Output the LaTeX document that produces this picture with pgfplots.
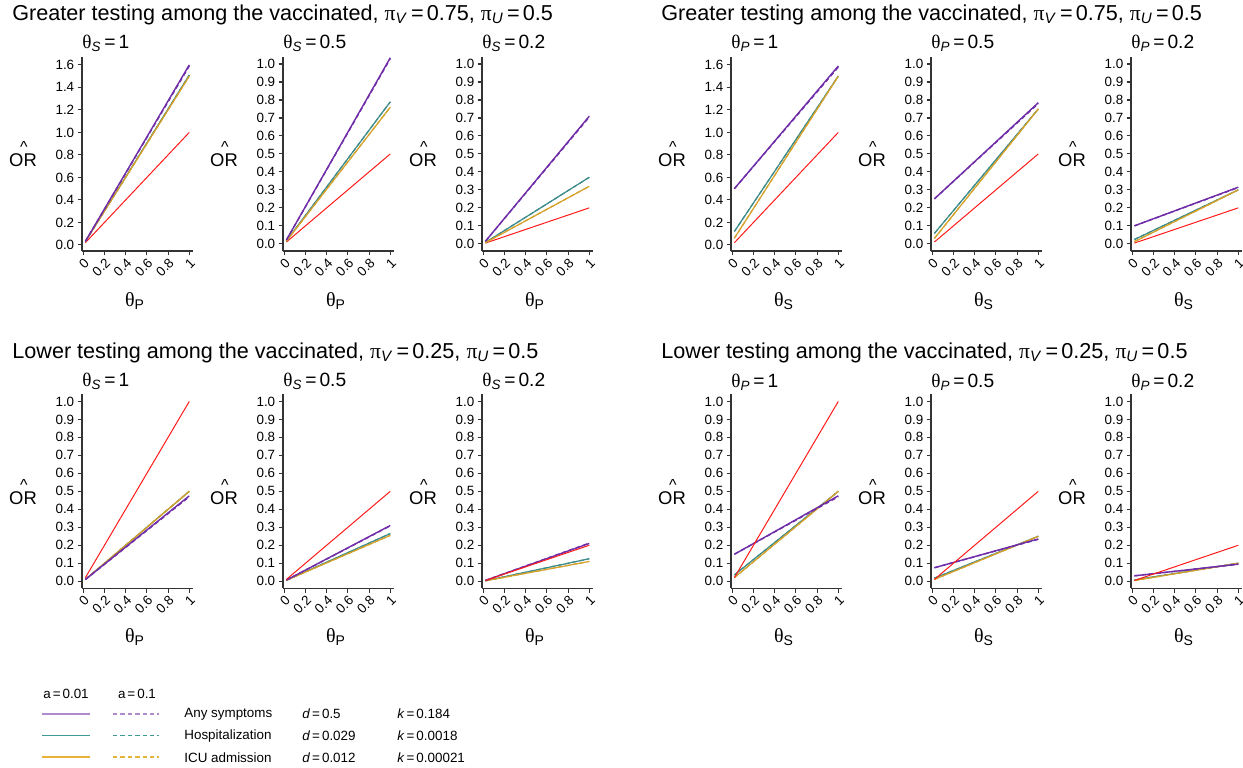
\documentclass[border=0pt]{standalone}
\usepackage{fontspec}
\setmainfont{Liberation Sans}
\newfontfamily\grk{Liberation Serif}
\usepackage{pgfplots}
\pgfplotsset{compat=1.18}

\definecolor{cpur}{HTML}{6F2DA8}
\definecolor{cteal}{HTML}{3D8B8B}
\definecolor{cgold}{HTML}{D4A12A}
\definecolor{cred}{HTML}{FF1A1A}
\definecolor{legpur}{HTML}{B08ACE}
\definecolor{legteal}{HTML}{3F9A95}
\definecolor{leggold}{HTML}{E6B23A}
\definecolor{axgray}{HTML}{333333}

\newcommand\tickf{\fontsize{6.7}{7.5}\selectfont}
\newcommand\thx[1]{{\grk θ}\textsubscript{#1}}
\newcommand\thi[1]{{\grk θ}\textsubscript{\textit{#1}}}
\newcommand\eq{\hspace{0.15em}=\hspace{0.15em}}

\pgfplotsset{
  pan/.style={
    at={(#1)}, anchor=south west,
    scale only axis, width=55.5pt, height=97pt,
    xmin=-0.012, xmax=1.035,
    axis lines*=left,
    axis line style={axgray, line width=0.55pt},
    tick align=outside, major tick length=2.2pt,
    tick style={axgray, line width=0.55pt},
    xtick={0,0.2,0.4,0.6,0.8,1},
    xticklabels={0,0.2,0.4,0.6,0.8,1},
    xticklabel style={font=\tickf, rotate=45, anchor=north east, inner sep=0.5pt},
    yticklabel style={font=\tickf, inner sep=1.5pt},
  },
  big/.style={ymin=-0.054, ymax=1.67,
    ytick={0,0.2,0.4,0.6,0.8,1,1.2,1.4,1.6},
    yticklabels={0.0,0.2,0.4,0.6,0.8,1.0,1.2,1.4,1.6}},
  sml/.style={ymin=-0.04, ymax=1.039,
    ytick={0,0.1,0.2,0.3,0.4,0.5,0.6,0.7,0.8,0.9,1},
    yticklabels={0.0,0.1,0.2,0.3,0.4,0.5,0.6,0.7,0.8,0.9,1.0}},
  rd/.style={cred, line width=0.5pt},
  ts/.style={cteal, line width=0.6pt},
  td/.style={cteal, line width=0.6pt, dash pattern=on 2.2pt off 1.5pt},
  gs/.style={cgold, line width=0.6pt},
  gd/.style={cgold, line width=0.6pt, dash pattern=on 2.2pt off 1.5pt},
  ps/.style={cpur, line width=0.7pt},
  pd/.style={cpur, line width=0.7pt, dash pattern=on 2.2pt off 1.5pt},
}

\begin{document}
\begin{tikzpicture}
\useasboundingbox (0,0) rectangle (621.5pt,-383.5pt);

% ---------- group titles ----------
\begin{scope}[every node/.style={anchor=west, font=\fontsize{10.8}{12}\selectfont, inner sep=0pt}]
\node at (6pt,-7.5pt)
  {Greater testing among the vaccinated, {\grk π}\textsubscript{\textit{V}}\eq0.75, {\grk π}\textsubscript{\textit{U}}\eq0.5};
\node at (330.5pt,-7.5pt)
  {Greater testing among the vaccinated, {\grk π}\textsubscript{\textit{V}}\eq0.75, {\grk π}\textsubscript{\textit{U}}\eq0.5};
\node at (6pt,-176.5pt)
  {Lower testing among the vaccinated, {\grk π}\textsubscript{\textit{V}}\eq0.25, {\grk π}\textsubscript{\textit{U}}\eq0.5};
\node at (330.5pt,-176.5pt)
  {Lower testing among the vaccinated, {\grk π}\textsubscript{\textit{V}}\eq0.25, {\grk π}\textsubscript{\textit{U}}\eq0.5};
\end{scope}

% ---------- panel titles ----------
\foreach \x/\t in {41/\thi{S}\eq1, 141.5/\thi{S}\eq0.5, 241/\thi{S}\eq0.2,
                   365.5/\thi{P}\eq1, 465.5/\thi{P}\eq0.5, 565.5/\thi{P}\eq0.2} {
  \node[anchor=west, font=\fontsize{9.6}{11}\selectfont, inner sep=0pt] at (\x pt,-21.5pt) {\t};
  \node[anchor=west, font=\fontsize{9.6}{11}\selectfont, inner sep=0pt] at (\x pt,-190.9pt) {\t};
}

% ---------- y labels (OR hat) and x labels ----------
\foreach \x/\v in {41/P, 141.5/P, 241/P, 365.5/S, 465.5/S, 565.5/S} {
  \foreach \yc/\yl in {-80/-150.5, -249/-318.5} {
    \node[font=\fontsize{9.2}{10}\selectfont, inner sep=0pt] (o) at (\x pt-29.5pt, \yc pt) {OR};
    \node[font=\fontsize{8}{9}\selectfont, inner sep=0pt, anchor=south] at ([xshift=0.4pt, yshift=0.3pt]o.north) {\textasciicircum};
    \node[font=\fontsize{10}{11}\selectfont, inner sep=0pt] at (\x pt+26.5pt, \yl pt) {\thx{\v}};
  }
}

% ================= top left: greater testing, x = theta_P =================
\begin{axis}[pan={41pt,-125.5pt}, big]
\addplot[rd] coordinates {(0.02,0.02) (1,1.0)};
\addplot[ts] coordinates {(0.02,0.030) (1,1.51)};
\addplot[td] coordinates {(0.02,0.030) (1,1.51)};
\addplot[gs] coordinates {(0.02,0.030) (1,1.50)};
\addplot[gd] coordinates {(0.02,0.030) (1,1.50)};
\addplot[ps] coordinates {(0.02,0.032) (1,1.60)};
\addplot[pd] coordinates {(0.02,0.032) (1,1.59)};
\end{axis}
\begin{axis}[pan={141.5pt,-125.5pt}, sml]
\addplot[rd] coordinates {(0.02,0.010) (1,0.50)};
\addplot[ts] coordinates {(0.02,0.016) (1,0.79)};
\addplot[td] coordinates {(0.02,0.016) (1,0.79)};
\addplot[gs] coordinates {(0.02,0.015) (1,0.76)};
\addplot[gd] coordinates {(0.02,0.015) (1,0.76)};
\addplot[ps] coordinates {(0.02,0.021) (1,1.035)};
\addplot[pd] coordinates {(0.02,0.021) (1,1.03)};
\end{axis}
\begin{axis}[pan={241pt,-125.5pt}, sml]
\addplot[rd] coordinates {(0.02,0.004) (1,0.20)};
\addplot[ts] coordinates {(0.02,0.0074) (1,0.37)};
\addplot[td] coordinates {(0.02,0.0074) (1,0.37)};
\addplot[gs] coordinates {(0.02,0.0064) (1,0.32)};
\addplot[gd] coordinates {(0.02,0.0064) (1,0.32)};
\addplot[ps] coordinates {(0.02,0.014) (1,0.71)};
\addplot[pd] coordinates {(0.02,0.014) (1,0.705)};
\end{axis}

% ================= top right: greater testing, x = theta_S =================
\begin{axis}[pan={365.5pt,-125.5pt}, big]
\addplot[rd] coordinates {(0.02,0.02) (1,1.0)};
\addplot[ts] coordinates {(0.02,0.12) (1,1.50)};
\addplot[td] coordinates {(0.02,0.12) (1,1.50)};
\addplot[gs] coordinates {(0.02,0.06) (1,1.50)};
\addplot[gd] coordinates {(0.02,0.06) (1,1.50)};
\addplot[ps] coordinates {(0.02,0.50) (1,1.59)};
\addplot[pd] coordinates {(0.02,0.50) (1,1.58)};
\end{axis}
\begin{axis}[pan={465.5pt,-125.5pt}, sml]
\addplot[rd] coordinates {(0.02,0.010) (1,0.50)};
\addplot[ts] coordinates {(0.02,0.058) (1,0.75)};
\addplot[td] coordinates {(0.02,0.058) (1,0.75)};
\addplot[gs] coordinates {(0.02,0.030) (1,0.75)};
\addplot[gd] coordinates {(0.02,0.030) (1,0.75)};
\addplot[ps] coordinates {(0.02,0.25) (1,0.785)};
\addplot[pd] coordinates {(0.02,0.25) (1,0.78)};
\end{axis}
\begin{axis}[pan={565.5pt,-125.5pt}, sml]
\addplot[rd] coordinates {(0.02,0.004) (1,0.20)};
\addplot[ts] coordinates {(0.02,0.024) (1,0.30)};
\addplot[td] coordinates {(0.02,0.024) (1,0.30)};
\addplot[gs] coordinates {(0.02,0.012) (1,0.30)};
\addplot[gd] coordinates {(0.02,0.012) (1,0.30)};
\addplot[ps] coordinates {(0.02,0.10) (1,0.315)};
\addplot[pd] coordinates {(0.02,0.10) (1,0.313)};
\end{axis}

% ================= bottom left: lower testing, x = theta_P =================
\begin{axis}[pan={41pt,-294.2pt}, sml]
\addplot[ts] coordinates {(0.02,0.010) (1,0.50)};
\addplot[td] coordinates {(0.02,0.010) (1,0.50)};
\addplot[gs] coordinates {(0.02,0.010) (1,0.50)};
\addplot[gd] coordinates {(0.02,0.010) (1,0.50)};
\addplot[ps] coordinates {(0.02,0.0095) (1,0.475)};
\addplot[pd] coordinates {(0.02,0.0095) (1,0.47)};
\addplot[rd] coordinates {(0.02,0.02) (1,1.0)};
\end{axis}
\begin{axis}[pan={141.5pt,-294.2pt}, sml]
\addplot[ts] coordinates {(0.02,0.0053) (1,0.265)};
\addplot[td] coordinates {(0.02,0.0053) (1,0.265)};
\addplot[gs] coordinates {(0.02,0.0051) (1,0.255)};
\addplot[gd] coordinates {(0.02,0.0051) (1,0.255)};
\addplot[ps] coordinates {(0.02,0.0062) (1,0.31)};
\addplot[pd] coordinates {(0.02,0.0062) (1,0.308)};
\addplot[rd] coordinates {(0.02,0.010) (1,0.50)};
\end{axis}
\begin{axis}[pan={241pt,-294.2pt}, sml]
\addplot[ts] coordinates {(0.02,0.0025) (1,0.125)};
\addplot[td] coordinates {(0.02,0.0025) (1,0.125)};
\addplot[gs] coordinates {(0.02,0.0022) (1,0.11)};
\addplot[gd] coordinates {(0.02,0.0022) (1,0.11)};
\addplot[ps] coordinates {(0.02,0.0042) (1,0.21)};
\addplot[pd] coordinates {(0.02,0.0042) (1,0.212)};
\addplot[rd] coordinates {(0.02,0.004) (1,0.20)};
\end{axis}

% ================= bottom right: lower testing, x = theta_S =================
\begin{axis}[pan={365.5pt,-294.2pt}, sml]
\addplot[ts] coordinates {(0.02,0.035) (1,0.50)};
\addplot[td] coordinates {(0.02,0.035) (1,0.50)};
\addplot[gs] coordinates {(0.02,0.020) (1,0.50)};
\addplot[gd] coordinates {(0.02,0.020) (1,0.50)};
\addplot[ps] coordinates {(0.02,0.15) (1,0.475)};
\addplot[pd] coordinates {(0.02,0.15) (1,0.47)};
\addplot[rd] coordinates {(0.02,0.02) (1,1.0)};
\end{axis}
\begin{axis}[pan={465.5pt,-294.2pt}, sml]
\addplot[ts] coordinates {(0.02,0.017) (1,0.25)};
\addplot[td] coordinates {(0.02,0.017) (1,0.25)};
\addplot[gs] coordinates {(0.02,0.010) (1,0.25)};
\addplot[gd] coordinates {(0.02,0.010) (1,0.25)};
\addplot[ps] coordinates {(0.02,0.075) (1,0.235)};
\addplot[pd] coordinates {(0.02,0.075) (1,0.233)};
\addplot[rd] coordinates {(0.02,0.010) (1,0.50)};
\end{axis}
\begin{axis}[pan={565.5pt,-294.2pt}, sml]
\addplot[ts] coordinates {(0.02,0.007) (1,0.10)};
\addplot[td] coordinates {(0.02,0.007) (1,0.10)};
\addplot[gs] coordinates {(0.02,0.004) (1,0.10)};
\addplot[gd] coordinates {(0.02,0.004) (1,0.10)};
\addplot[ps] coordinates {(0.02,0.030) (1,0.095)};
\addplot[pd] coordinates {(0.02,0.030) (1,0.094)};
\addplot[rd] coordinates {(0.02,0.004) (1,0.20)};
\end{axis}

% ---------- legend ----------
\begin{scope}[font=\fontsize{6.7}{7.5}\selectfont]
\node at (33pt,-347pt) {a\eq0.01};
\node at (68.5pt,-347pt) {a\eq0.1};
\draw[color=legpur, line width=1pt] (21pt,-357pt) -- (45pt,-357pt);
\draw[color=legpur, line width=1pt, dash pattern=on 2.2pt off 1.5pt] (56.5pt,-357pt) -- (79.5pt,-357pt);
\draw[color=legteal, line width=0.8pt] (21pt,-367.8pt) -- (45pt,-367.8pt);
\draw[color=legteal, line width=0.8pt, dash pattern=on 2.2pt off 1.5pt] (56.5pt,-367.8pt) -- (79.5pt,-367.8pt);
\draw[color=leggold, line width=0.8pt] (21pt,-378.6pt) -- (45pt,-378.6pt);
\draw[color=leggold, line width=0.8pt, dash pattern=on 2.2pt off 1.5pt] (56.5pt,-378.6pt) -- (79.5pt,-378.6pt);
\node[anchor=west, inner sep=0pt] at (92pt,-357pt) {Any symptoms};
\node[anchor=west, inner sep=0pt] at (92pt,-367.8pt) {Hospitalization};
\node[anchor=west, inner sep=0pt] at (92pt,-378.6pt) {ICU admission};
\node[anchor=west, inner sep=0pt] at (151pt,-357pt) {\textit{d}\eq0.5};
\node[anchor=west, inner sep=0pt] at (151pt,-367.8pt) {\textit{d}\eq0.029};
\node[anchor=west, inner sep=0pt] at (151pt,-378.6pt) {\textit{d}\eq0.012};
\node[anchor=west, inner sep=0pt] at (198.5pt,-357pt) {\textit{k}\eq0.184};
\node[anchor=west, inner sep=0pt] at (198.5pt,-367.8pt) {\textit{k}\eq0.0018};
\node[anchor=west, inner sep=0pt] at (198.5pt,-378.6pt) {\textit{k}\eq0.00021};
\end{scope}
\end{tikzpicture}
\end{document}
